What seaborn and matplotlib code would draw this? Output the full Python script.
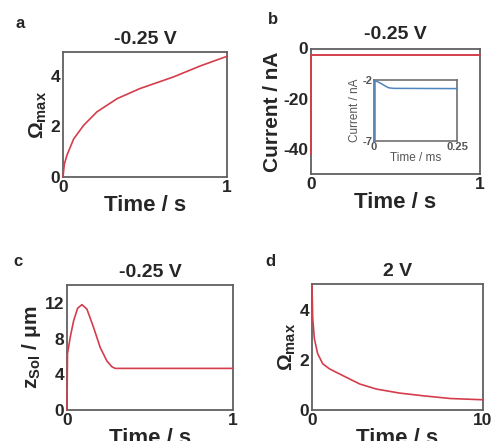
import numpy as np
import pandas as pd
import matplotlib
matplotlib.use("Agg")
import matplotlib.pyplot as plt
import seaborn as sns

# panel a : Omega_max vs time at -0.25 V
t_a = [0, 0.008, 0.024, 0.065, 0.126, 0.207, 0.33, 0.47, 0.675, 0.837, 1.0]
om_a = [0, 0.5, 0.86, 1.5, 2.04, 2.57, 3.09, 3.49, 3.95, 4.38, 4.76]

# panel b : current vs time at -0.25 V (plus inset in ms)
t_b = [0, 0, 1]
cur_b = [-42, -2.7, -2.7]
t_ins = [0.003, 0.003, 0.006, 0.02, 0.035, 0.045, 0.06, 0.25]
cur_ins = [-7, -2.1, -2.12, -2.3, -2.55, -2.68, -2.72, -2.74]

# panel c : z_sol vs time at -0.25 V
t_c = [0, 0.003, 0.02, 0.04, 0.064, 0.09, 0.12, 0.16, 0.2, 0.24, 0.27, 0.29, 1.0]
z_c = [0, 6.3, 8.2, 10.0, 11.4, 11.8, 11.3, 9.25, 7.0, 5.5, 4.85, 4.66, 4.66]

# panel d : Omega_max vs time at 2 V
t_d = [0, 0.04, 0.14, 0.33, 0.63, 1.02, 1.8, 2.8, 3.76, 5.1, 6.5, 8.1, 10]
om_d = [5.0, 3.7, 2.85, 2.26, 1.85, 1.65, 1.38, 1.04, 0.84, 0.68, 0.57, 0.46, 0.41]

sns.set_style("white")
plt.rcParams["font.family"] = ["Liberation Sans", "DejaVu Sans"]
plt.rcParams["font.weight"] = "bold"
plt.rcParams["axes.unicode_minus"] = False
plt.rcParams["mathtext.fontset"] = "custom"
plt.rcParams["mathtext.rm"] = "Liberation Sans:bold"
plt.rcParams["mathtext.it"] = "Liberation Sans:bold"
plt.rcParams["mathtext.bf"] = "Liberation Sans:bold"

RED = "#d43d4c"
BLUE = "#4f86bf"
SPINE = "#606060"
W, H = 496, 441

fig = plt.figure(figsize=(W / 100, H / 100), dpi=100)


def box(x0, y0, x1, y1):
    return fig.add_axes([x0 / W, 1 - y1 / H, (x1 - x0) / W, (y1 - y0) / H])


def line(ax, x, y, color=RED, lw=1.2):
    sns.lineplot(x=x, y=y, ax=ax, color=color, lw=lw, sort=False, estimator=None)
    ax.lines[-1].set_zorder(5)
    ax.lines[-1].set_clip_on(False)


def style(ax, fs=12.5, lw=1.3, col=SPINE):
    for s in ax.spines.values():
        s.set_color(col)
        s.set_linewidth(lw)
        s.set_visible(True)
    ax.tick_params(length=0, pad=2, labelsize=fs)
    for lab in ax.get_xticklabels() + ax.get_yticklabels():
        lab.set_fontweight("bold")


# a
ax = box(63, 52, 227, 177)
line(ax, t_a, om_a)
ax.set_xlim(0, 1)
ax.set_ylim(0, 4.93)
ax.set_xticks([0, 1])
ax.set_yticks([0, 2, 4])
ax.set_title("-0.25 V", fontsize=14, fontweight="bold", pad=6)
ax.set_xlabel("Time / s", fontsize=16, fontweight="bold", labelpad=0)
ax.set_ylabel(r"Ω$_{\mathrm{max}}$", fontsize=15, fontweight="bold", labelpad=1)
style(ax)

# b
ax = box(311, 48.5, 480, 174)
line(ax, t_b, cur_b, lw=1.4)
ax.set_xlim(0, 1)
ax.set_ylim(-50, 0)
ax.set_xticks([0, 1])
ax.set_yticks([0, -20, -40])
ax.set_title("-0.25 V", fontsize=14, fontweight="bold", pad=7)
ax.set_xlabel("Time / s", fontsize=16, fontweight="bold", labelpad=0)
ax.set_ylabel("Current / nA", fontsize=15, fontweight="bold", labelpad=1)
style(ax)

ins = box(374, 79.5, 457, 141)
line(ins, t_ins, cur_ins, color=BLUE, lw=1.1)
ins.set_xlim(0, 0.25)
ins.set_ylim(-7, -2)
ins.set_xticks([0, 0.25])
ins.set_xticklabels(["0", "0.25"])
ins.set_yticks([-7, -2])
ins.set_xlabel("Time / ms", fontsize=8.5, fontweight="normal", color="#555555", labelpad=0)
ins.set_ylabel("Current / nA", fontsize=8.5, fontweight="normal", color="#555555", labelpad=1)
for s in ins.spines.values():
    s.set_color("#707070")
    s.set_linewidth(1.2)
ins.tick_params(length=0, pad=1, labelsize=8, labelcolor="#555555")

# c
ax = box(67, 285, 233, 410)
line(ax, t_c, z_c)
ax.set_xlim(0, 1)
ax.set_ylim(0, 14)
ax.set_xticks([0, 1])
ax.set_yticks([0, 4, 8, 12])
ax.set_title("-0.25 V", fontsize=14, fontweight="bold", pad=6)
ax.set_xlabel("Time / s", fontsize=16, fontweight="bold", labelpad=0)
ax.set_ylabel(r"z$_{\mathrm{Sol}}$ / μm", fontsize=15, fontweight="bold", labelpad=1)
style(ax)

# d
ax = box(312, 284, 483, 410)
line(ax, t_d, om_d)
ax.set_xlim(0, 10)
ax.set_ylim(0, 5.05)
ax.set_xticks([0, 10])
ax.set_yticks([0, 2, 4])
ax.set_title("2 V", fontsize=14, fontweight="bold", pad=6)
ax.set_xlabel("Time / s", fontsize=16, fontweight="bold", labelpad=0)
ax.set_ylabel(r"Ω$_{\mathrm{max}}$", fontsize=15, fontweight="bold", labelpad=1)
style(ax)

for letter, x, y in [("a", 20, 23), ("b", 273, 20), ("c", 18, 262), ("d", 270, 262)]:
    fig.text(x / W, 1 - y / H, letter, fontsize=12, fontweight="bold",
             ha="center", va="center")

fig.savefig("out.png", dpi=100)
